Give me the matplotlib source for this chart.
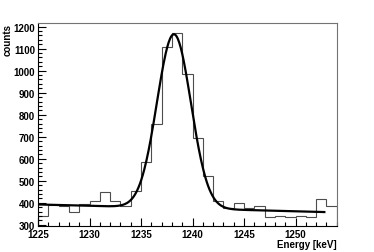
import numpy as np
import matplotlib.pyplot as plt
from matplotlib.ticker import MultipleLocator

plt.rcParams['font.family'] = ['Liberation Sans', 'DejaVu Sans']

# histogram: 1 keV bins from 1225 to 1254
edges = np.arange(1225, 1255, 1)
counts = [341, 388, 385, 356, 395, 408, 447, 406, 386, 455,
          586, 758, 1109, 1170, 984, 695, 520, 408, 377, 397,
          374, 384, 336, 341, 333, 341, 334, 417, 386]

# fit: gaussian + linear background
amp = 790
mean = 1238.2
sigma = 1.65
bg0 = 392      # background at 1225 keV
bg_slope = -1.24
fit_range = (1225, 1252.8)

fig = plt.figure(figsize=(3.74, 2.53), dpi=100)
ax = fig.add_axes([38 / 374, 1 - 226.7 / 253, 298.7 / 374, 202.7 / 253])

ax.stairs(counts, edges, color='0.3', lw=0.8)

xf = np.linspace(fit_range[0], fit_range[1], 400)
yf = amp * np.exp(-0.5 * ((xf - mean) / sigma) ** 2) + bg0 + bg_slope * (xf - 1225)
ax.plot(xf, yf, color='black', lw=1.6)

ax.set_xlim(1225, 1254)
ax.set_ylim(295.5, 1216.8)

ax.xaxis.set_major_locator(MultipleLocator(5))
ax.xaxis.set_minor_locator(MultipleLocator(1))
ax.yaxis.set_major_locator(MultipleLocator(100))
ax.yaxis.set_minor_locator(MultipleLocator(20))
ax.tick_params(which='both', direction='in', top=False, right=False,
               labelsize=7, width=0.8)
ax.tick_params(which='major', length=6)
ax.tick_params(axis='x', which='major', pad=2.5)
ax.tick_params(axis='y', which='major', pad=2)
ax.tick_params(which='minor', length=3)
for lab in ax.get_xticklabels() + ax.get_yticklabels():
    lab.set_fontweight('bold')

for s in ['top', 'right']:
    ax.spines[s].set_color('0.45')
for s in ax.spines.values():
    s.set_linewidth(0.8)

fig.text(8 / 374, 1 - 24 / 253, 'counts', rotation=90, ha='center', va='top',
         fontsize=7, fontweight='bold')
fig.text(337 / 374, 1 - 245.5 / 253, 'Energy [keV]', ha='right', va='center',
         fontsize=7, fontweight='bold')

fig.savefig('out.png', dpi=100)
